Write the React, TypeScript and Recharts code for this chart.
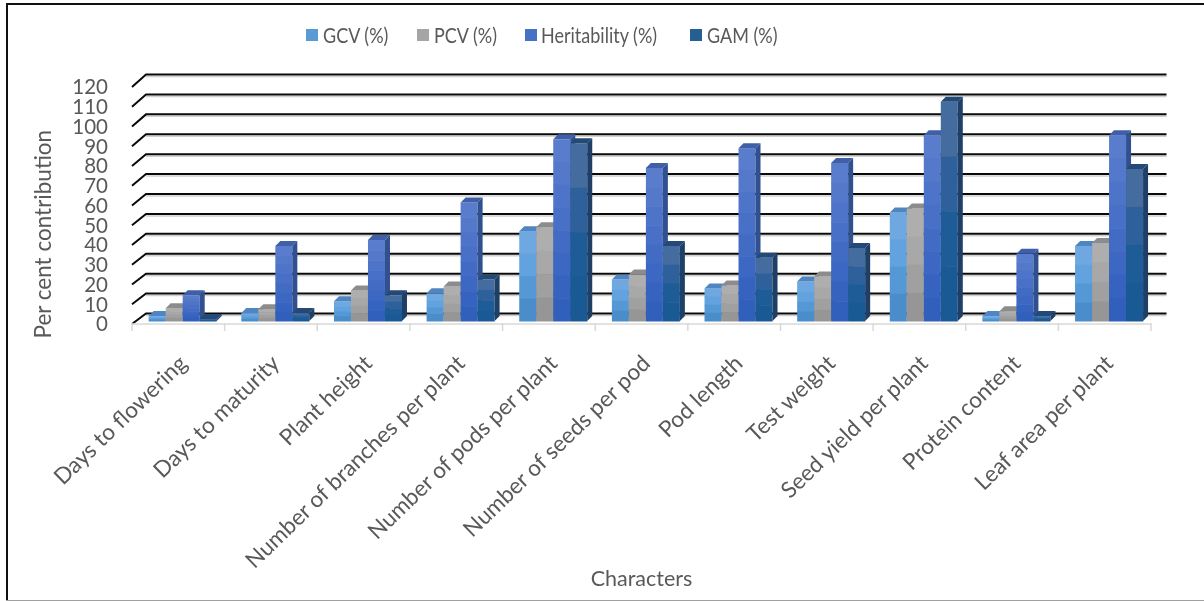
import { BarChart, Bar, XAxis, YAxis, CartesianGrid, Legend, Label } from 'recharts'

const categories = [
  'Days to flowering',
  'Days to maturity',
  'Plant height',
  'Number of branches per plant',
  'Number of pods per plant',
  'Number of seeds per pod',
  'Pod length',
  'Test weight',
  'Seed yield per plant',
  'Protein content',
  'Leaf area per plant',
]

const gcv = [2.5, 4, 10, 14, 45.5, 21, 16.5, 20, 55, 2.5, 38]
const pcv = [6.5, 6, 15.5, 17.5, 47.5, 23.5, 18, 22.5, 57, 5, 39.5]
const heritability = [13, 38, 41, 60, 92, 77.5, 87.5, 80, 94, 34, 94]
const gam = [1, 4, 13, 21, 90, 38, 32, 37, 111, 2.5, 77]

const yTicks = [0, 10, 20, 30, 40, 50, 60, 70, 80, 90, 100, 110, 120]

const chartData = categories.map((name, i) => ({
  name,
  gcv: gcv[i],
  pcv: pcv[i],
  heritability: heritability[i],
  gam: gam[i],
}))

const TEXT = '#595959'
const FONT = 'Lato, sans-serif'

// light to dark, top to bottom, flat bands like the excel 3d bars
const SERIES = [
  { key: 'gcv', name: 'GCV (%)', bands: ['#6fa8e0', '#62a2de', '#5598d6', '#4b8dcb'], top: '#4f86c2', side: '#3f74ad', legend: '#5b9bd5' },
  { key: 'pcv', name: 'PCV (%)', bands: ['#aeaeae', '#a8a8a8', '#a0a0a0', '#969696'], top: '#8c8c8c', side: '#7d7d7d', legend: '#a5a5a5' },
  { key: 'heritability', name: 'Heritability (%)', bands: ['#5a7ccc', '#5478ca', '#4e74c9', '#4870c7', '#426bc4', '#3c67c2', '#3663bf', '#3060bc'], top: '#3f5fa8', side: '#31508f', legend: '#4472c4' },
  { key: 'gam', name: 'GAM (%)', bands: ['#446c9e', '#2e619c', '#1e5c98', '#1a5a94'], top: '#234a76', side: '#1f3f66', legend: '#255e91' },
]

const legendLeft = [306, 417, 525, 690]

const Bar3D = (props: any) => {
  const { x, y, width, height, bands, top, side } = props
  if (!height && height !== 0) return null
  const depth = 5
  const x0 = x + 4.7
  const y0 = y - 3
  const x1 = x0 + width
  const base = y0 + height
  const bandH = height / bands.length
  return (
    <g>
      {bands.map((c: string, i: number) => (
        <rect key={i} x={x0} y={y0 + bandH * i} width={width} height={bandH + 0.5} fill={c} />
      ))}
      <polygon points={`${x0},${y0} ${x0 + depth},${y0 - depth} ${x1 + depth},${y0 - depth} ${x1},${y0}`} fill={top} />
      <polygon points={`${x1},${y0} ${x1 + depth},${y0 - depth} ${x1 + depth},${base - depth} ${x1},${base}`} fill={side} />
    </g>
  )
}

// front edge of the floor plus the back wall line
const gridLine = (props: any) => {
  const { x1, x2, y1, index } = props
  const back = y1 - 11.5 + (y1 - 205) * 0.008
  return (
    <g key={`grid-${index}`} fill="none">
      <path d={`M${x1 + 14} ${back + 2}H${x2 + 15.5}`} stroke="#d0d0d0" strokeWidth={1.5} />
      <path d={`M${x1} ${y1}L${x1 + 14} ${back}H${x2 + 15.5}`} stroke="#0a0a0a" strokeWidth={2} />
    </g>
  )
}

const XTick = (props: any) => {
  const { x, y, payload, index } = props
  const half = payload.offset ?? 46.3
  return (
    <g>
      <line x1={x - half} x2={x - half} y1={y - 9} y2={y - 1} stroke="#d9d9d9" strokeWidth={1.5} />
      {index === categories.length - 1 && (
        <line x1={x + half} x2={x + half} y1={y - 9} y2={y - 1} stroke="#d9d9d9" strokeWidth={1.5} />
      )}
      <text
        x={x + 10}
        y={y + 33}
        textAnchor="end"
        transform={`rotate(-44 ${x + 10} ${y + 33})`}
        fill={TEXT}
        fontFamily={FONT}
        fontSize={22.5}
      >
        {payload.value}
      </text>
    </g>
  )
}

const ChartLegend = () => (
  <div style={{ position: 'relative', width: 1204, height: 27 }}>
    {SERIES.map((s, i) => (
      <div
        key={s.key}
        style={{
          position: 'absolute',
          left: legendLeft[i],
          top: 2,
          display: 'flex',
          alignItems: 'center',
          color: TEXT,
          fontFamily: FONT,
          fontSize: 18,
          whiteSpace: 'nowrap',
        }}
      >
        <span style={{ width: 12, height: 12, marginRight: i === 2 ? 4 : 5, background: s.legend, display: 'inline-block' }} />
        <span style={{ display: 'inline-block', transform: 'scaleY(1.2)' }}>{s.name}</span>
      </div>
    ))}
  </div>
)

export default function App() {
  return (
    <div style={{ position: 'absolute', left: 0, top: 0, width: 1204, height: 601, background: '#fff', overflow: 'hidden' }}>
      <div style={{ position: 'absolute', left: 6, top: 3, width: 1198, height: 2, background: '#111' }} />
      <div style={{ position: 'absolute', left: 6, top: 3, width: 2, height: 598, background: '#111' }} />
      <div style={{ position: 'absolute', left: 6, top: 599.5, width: 1198, height: 1.5, background: '#a0a0a0' }} />
      <BarChart
        width={1204}
        height={601}
        data={chartData}
        margin={{ top: 60, right: 53, bottom: 27, left: 92 }}
        barSize={17}
        barGap={0}
        style={{ position: 'absolute', left: 0, top: 0, filter: 'blur(0.4px)' }}
      >
        <CartesianGrid vertical={false} horizontal={gridLine} />
        <XAxis
          dataKey="name"
          interval={0}
          height={250}
          axisLine={{ stroke: '#d9d9d9', strokeWidth: 1.5 }}
          tickLine={false}
          tick={<XTick />}
        >
          <Label value="Characters" position="insideBottom" offset={-12} fill={TEXT} fontFamily={FONT} fontSize={21.5} />
        </XAxis>
        <YAxis
          domain={[0, 120]}
          ticks={yTicks}
          interval={0}
          width={40}
          axisLine={false}
          tickLine={false}
          tick={{ fill: TEXT, fontFamily: FONT, fontSize: 20.5 }}
          tickMargin={18}
        >
          <Label value="Per cent contribution" angle={-90} position="insideLeft" offset={-49} dy={133} fill={TEXT} fontFamily={FONT} fontSize={22.5} />
        </YAxis>
        <Legend verticalAlign="top" content={<ChartLegend />} wrapperStyle={{ top: 22, left: 0, width: 1204 }} />
        {SERIES.map((s) => (
          <Bar
            key={s.key}
            dataKey={s.key}
            name={s.name}
            isAnimationActive={false}
            shape={(p: any) => <Bar3D {...p} bands={s.bands} top={s.top} side={s.side} />}
          />
        ))}
      </BarChart>
    </div>
  )
}
